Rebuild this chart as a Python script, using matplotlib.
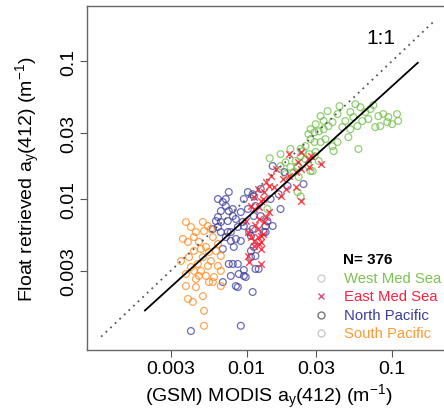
import matplotlib
matplotlib.use("Agg")
import matplotlib.pyplot as plt

plt.rcParams['font.family'] = ['Liberation Sans', 'DejaVu Sans']
plt.rcParams['mathtext.fontset'] = 'custom'
plt.rcParams['mathtext.rm'] = 'Liberation Sans'
plt.rcParams['mathtext.it'] = 'Liberation Sans:italic'
plt.rcParams['mathtext.default'] = 'regular'

# West Med Sea (green circles)
west_x = [0.0435, 0.036, 0.0322, 0.0338, 0.0298, 0.0275, 0.0266, 0.0293, 0.0313, 0.0338,
          0.0365, 0.0389, 0.0421, 0.0477, 0.0516, 0.0559, 0.0605, 0.0654, 0.0708, 0.0624,
          0.0577, 0.0516, 0.05, 0.0804, 0.087, 0.0941, 0.0926, 0.0829, 0.0766, 0.108,
          0.110, 0.0586, 0.0396, 0.0389, 0.0421, 0.0322, 0.0275, 0.0254, 0.0243, 0.0235,
          0.027, 0.0293, 0.0266, 0.0284, 0.0224, 0.021, 0.0228, 0.0224, 0.0144, 0.0171,
          0.0293, 0.0235, 0.0298, 0.0171, 0.0185, 0.02, 0.0217, 0.0275, 0.0235, 0.0139,
          0.0455, 0.0541, 0.0686, 0.1, 0.0743, 0.0348, 0.02, 0.0254, 0.0313, 0.0185]
west_y = [0.047, 0.0433, 0.0398, 0.0367, 0.0348, 0.032, 0.0295, 0.0304, 0.0309, 0.032,
          0.0337, 0.036, 0.0412, 0.0367, 0.0426, 0.0486, 0.0462, 0.0426, 0.0448, 0.0367,
          0.0337, 0.032, 0.028, 0.0398, 0.0412, 0.0392, 0.036, 0.0337, 0.0331, 0.0412,
          0.0367, 0.023, 0.0222, 0.0241, 0.0258, 0.0258, 0.0271, 0.0241, 0.0222, 0.0204,
          0.0211, 0.0204, 0.0173, 0.0159, 0.0173, 0.0156, 0.0144, 0.0112, 0.0197, 0.0211,
          0.0258, 0.023, 0.0219, 0.0173, 0.0184, 0.017, 0.0188, 0.0159, 0.0104, 0.00844,
          0.0331, 0.0392, 0.0379, 0.0348, 0.0478, 0.0271, 0.023, 0.0194, 0.0188, 0.0151]

# East Med Sea (red crosses)
east_x = [0.0194, 0.0224, 0.0235, 0.0266, 0.027, 0.0217, 0.0194, 0.0177, 0.0146, 0.0153,
          0.0142, 0.0131, 0.0119, 0.0112, 0.0125, 0.0121, 0.0217, 0.0235, 0.0171, 0.0112,
          0.0142, 0.0119, 0.0102, 0.0125, 0.0129, 0.0107, 0.0121, 0.0114, 0.0129, 0.0107,
          0.0112, 0.0125, 0.0102, 0.0104, 0.0125, 0.0112, 0.0121, 0.0125, 0.0119, 0.0131,
          0.0322, 0.0235, 0.0275, 0.0158, 0.0135, 0.0185, 0.00986, 0.0135]
east_y = [0.0211, 0.0184, 0.0219, 0.0194, 0.017, 0.0156, 0.0146, 0.0139, 0.0146, 0.0122,
          0.0124, 0.0112, 0.0118, 0.0103, 0.00964, 0.00872, 0.0122, 0.00964, 0.0104, 0.00844,
          0.00802, 0.00604, 0.00574, 0.00538, 0.00997, 0.00887, 0.00714, 0.00646, 0.00556, 0.00528,
          0.00455, 0.00487, 0.00385, 0.00348, 0.00433, 0.00495, 0.00471, 0.00337, 0.00528, 0.00679,
          0.0179, 0.0164, 0.0204, 0.0164, 0.0132, 0.0118, 0.0069, 0.00738]

# North Pacific (blue circles)
north_x = [0.0151, 0.0246, 0.0191, 0.0166, 0.0146, 0.0125, 0.0112, 0.0102, 0.00957, 0.00754,
           0.00719, 0.00635, 0.00803, 0.00912, 0.0102, 0.0112, 0.0125, 0.0139, 0.0151, 0.0135,
           0.00941, 0.00843, 0.0087, 0.00742, 0.00665, 0.00635, 0.0107, 0.0171, 0.0115, 0.00686,
           0.00719, 0.00754, 0.00665, 0.00803, 0.00742, 0.00615, 0.00635, 0.00665, 0.00719, 0.00778,
           0.00816, 0.00686, 0.00754, 0.0087, 0.00957, 0.00884, 0.00843, 0.00778, 0.011, 0.00957,
           0.011, 0.00912, 0.0107, 0.0121, 0.0115, 0.00586, 0.00803, 0.00957, 0.00986, 0.00686,
           0.0087, 0.011, 0.00912, 0.00414, 0.0107, 0.0115, 0.00778, 0.00843, 0.0131, 0.0135,
           0.0104, 0.0182, 0.0112]
north_y = [0.0173, 0.0128, 0.0124, 0.0108, 0.00997, 0.0118, 0.0104, 0.0112, 0.00997, 0.0112,
           0.00997, 0.00997, 0.00844, 0.00802, 0.00844, 0.0075, 0.0075, 0.0069, 0.00635, 0.00574,
           0.00679, 0.00714, 0.00625, 0.00574, 0.00679, 0.00738, 0.00538, 0.00844, 0.00887, 0.00948,
           0.00887, 0.00816, 0.00816, 0.0075, 0.0069, 0.0069, 0.00625, 0.00574, 0.00528, 0.00495,
           0.00448, 0.00433, 0.00337, 0.00337, 0.00276, 0.00285, 0.00233, 0.00276, 0.0108, 0.00635,
           0.00604, 0.00495, 0.00419, 0.0031, 0.00385, 0.00604, 0.00337, 0.00305, 0.00271, 0.00249,
           0.00229, 0.00211, 0.0012, 0.0011, 0.00378, 0.0031, 0.00574, 0.00512, 0.00574, 0.00635,
           0.00574, 0.0156, 0.00448]

# South Pacific (orange circles)
south_x = [0.00383, 0.00414, 0.005, 0.00542, 0.00509, 0.00586, 0.00365, 0.00395, 0.00434, 0.0047,
           0.00525, 0.00551, 0.00434, 0.005, 0.00568, 0.00462, 0.00414, 0.00542, 0.00635, 0.00485,
           0.00665, 0.00525, 0.00596, 0.00383, 0.00448, 0.00551, 0.00665, 0.00635, 0.00568, 0.00434,
           0.0047, 0.00383, 0.00448, 0.005, 0.00395, 0.00427, 0.00509, 0.00509, 0.00586, 0.00665,
           0.00448, 0.00402, 0.00354, 0.00485, 0.00615]
south_y = [0.00679, 0.00625, 0.00679, 0.00635, 0.00584, 0.00528, 0.00512, 0.00487, 0.00528, 0.00487,
           0.00448, 0.00412, 0.00419, 0.00378, 0.00354, 0.00337, 0.0032, 0.00326, 0.00326, 0.003,
           0.003, 0.00276, 0.00271, 0.00285, 0.00262, 0.00249, 0.00385, 0.00471, 0.00604, 0.003,
           0.00276, 0.00233, 0.00229, 0.00197, 0.00188, 0.00179, 0.00154, 0.0012, 0.00249, 0.00233,
           0.00574, 0.00378, 0.00354, 0.00433, 0.00419]

one_to_one = [0.001, 0.19]
fit_x = [0.002, 0.15]
fit_y = [0.00155, 0.097]

xticks = [0.003, 0.01, 0.03, 0.1]
xticklabels = ['0.003', '0.01', '0.03', '0.1']

legend_names = ['West Med Sea', 'East Med Sea', 'North Pacific', 'South Pacific']
n_total = 376

fig = plt.figure(figsize=(4.44, 4.14), dpi=100)
ax = fig.add_axes([0.196, 0.152, 0.8176, 0.8309])

ax.plot(one_to_one, one_to_one, color='#555555', linestyle=(0, (1, 2.5)), lw=1.3)
ax.plot(fit_x, fit_y, color='black', lw=1.3)

ax.scatter(west_x, west_y, s=24, facecolors='none', edgecolors='#6cbf45', linewidths=0.9, alpha=0.75)
ax.scatter(north_x, north_y, s=24, facecolors='none', edgecolors='#3a3a9e', linewidths=0.9, alpha=0.75)
ax.scatter(south_x, south_y, s=24, facecolors='none', edgecolors='#ff8a1c', linewidths=0.9, alpha=0.75)
ax.scatter(east_x, east_y, s=22, marker='x', color='#ff1f2e', linewidths=1.0, alpha=0.85)

ax.set_xscale('log')
ax.set_yscale('log')
ax.set_xlim(0.0008, 0.25)
ax.set_ylim(0.0008, 0.25)
ax.minorticks_off()
ax.set_xticks(xticks)
ax.set_xticklabels(xticklabels)
ax.set_yticks(xticks)
ax.set_yticklabels(xticklabels, rotation=90, va='center')
ax.tick_params(labelsize=14, length=5, width=0.8, color='#555555', pad=2)
for sp in ax.spines.values():
    sp.set_color('#666666')
    sp.set_linewidth(1.0)

ax.set_xlabel('(GSM) MODIS a$_y$(412) (m$^{-1}$)', fontsize=14, labelpad=4)
ax.set_ylabel('Float retrieved a$_y$(412) (m$^{-1}$)', fontsize=14, labelpad=13)

ax.text(0.81, 0.91, '1:1', transform=ax.transAxes, fontsize=15, ha='center', va='center')

# legend drawn by hand
ax.text(0.705, 0.2645, 'N= %d' % n_total, transform=ax.transAxes, fontsize=11,
        fontweight='bold', va='center')
leg_colors = ['#7cc250', '#ff2040', '#3c3ca0', '#ff9933']
leg_markers = ['o', 'x', 'o', 'o']
leg_mcolors = ['#d0d0d0', '#e0507a', '#777777', '#c8c8c8']
leg_y = [0.209, 0.157, 0.102, 0.049]
for name, c, m, mc, yy in zip(legend_names, leg_colors, leg_markers, leg_mcolors, leg_y):
    ax.plot([0.645], [yy], marker=m, ms=5, mfc='none', mec=mc, mew=1.0,
            transform=ax.transAxes, linestyle='none')
    ax.text(0.708, yy, name, transform=ax.transAxes, fontsize=10.7, color=c, va='center')

fig.savefig('out.png', dpi=100)
